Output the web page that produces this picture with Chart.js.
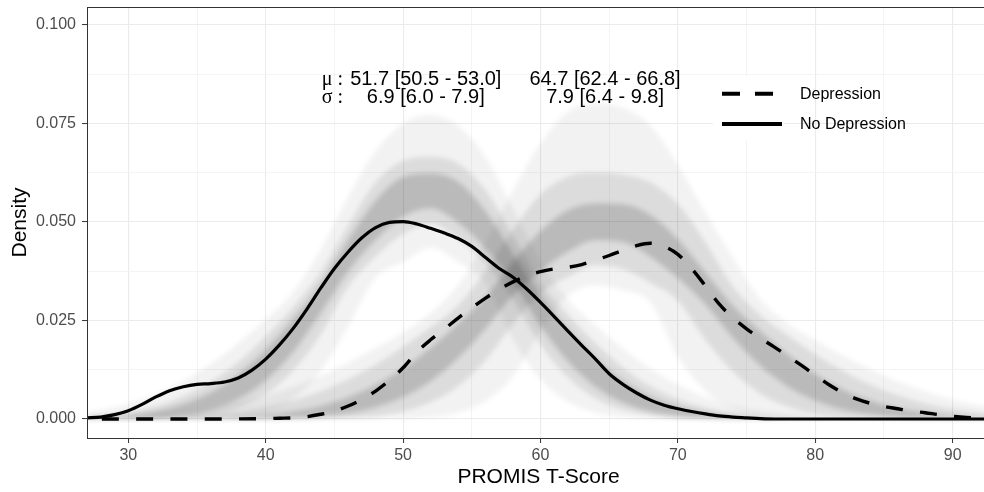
<!DOCTYPE html>
<html>
<head>
<meta charset="utf-8">
<script src="https://cdn.jsdelivr.net/npm/chart.js@4/dist/chart.umd.min.js"></script>
<style>
html,body{margin:0;padding:0;background:#fff;overflow:hidden;}
#wrap{width:990px;height:492px;}
</style>
</head>
<body>
<div id="wrap"><canvas id="c" width="990" height="492"></canvas></div>
<script>
// ---------- data ----------
const xMajorTicks = [30, 40, 50, 60, 70, 80, 90];
const xMinorTicks = [35, 45, 55, 65, 75, 85];
const yMajorTicks = [0, 0.025, 0.05, 0.075, 0.1];
const yMinorTicks = [0.0125, 0.0375, 0.0625, 0.0875];
const seriesNames = ['Depression', 'No Depression'];
const xTitle = 'PROMIS T-Score';
const yTitle = 'Density';

// annotation text (posterior summaries)
const summaryLabels = ['\u03bc :', '\u03c3 :'];
const summaryNoDep = ['51.7 [50.5 - 53.0]', '6.9 [6.0 - 7.9]'];
const summaryDep = ['64.7 [62.4 - 66.8]', '7.9 [6.4 - 9.8]'];

// observed density, No Depression (solid)
const noDepScores = [27,28,29,30,31,32,33,34,35,36,37,38,39,40,41,42,43,44,45,46,47,48,49,50,51,52,53,54,55,56,57,58,59,60,61,62,63,64,65,66,67,68,69,70,71,72,73,74,75,76,77,78,85,93];
const noDepDensity = [0.0003,0.0005,0.0011,0.0021,0.0037,0.0056,0.0072,0.0082,0.0088,0.0090,0.0094,0.0104,0.0124,0.0152,0.0188,0.0230,0.0279,0.0332,0.0382,0.0424,0.0460,0.0486,0.0499,0.0501,0.0495,0.0484,0.0472,0.0458,0.0438,0.0410,0.0382,0.0360,0.0330,0.0296,0.0260,0.0223,0.0187,0.0152,0.0115,0.0088,0.0066,0.0048,0.0035,0.0026,0.0019,0.0013,0.0008,0.0005,0.0003,0.0001,0.0000,0.0000,0.0000,0.0000];

// observed density, Depression (dashed)
const depScores = [27,30,35,40,41,42,43,44,45,46,47,48,49,50,51,52,53,54,55,56,57,58,59,60,61,62,63,64,65,66,67,68,69,70,71,72,73,74,75,76,77,78,79,80,81,82,83,84,85,86,87,88,89,90,91,92,93];
const depDensity = [0,0,0,0.0001,0.0002,0.0003,0.0006,0.0012,0.0020,0.0033,0.0050,0.0071,0.0098,0.0130,0.0170,0.0201,0.0228,0.0256,0.0282,0.0307,0.0329,0.0348,0.0363,0.0374,0.0381,0.0385,0.0392,0.0403,0.0415,0.0428,0.0440,0.0446,0.0438,0.0418,0.0382,0.0338,0.0292,0.0257,0.0229,0.0205,0.0183,0.0160,0.0136,0.0111,0.0087,0.0067,0.0051,0.0040,0.0032,0.0026,0.0020,0.0016,0.0011,0.0007,0.0004,0.0002,0.0001];

// spread of the grey posterior-draw curves (estimated envelopes)
const bandScores = [27,30,33,36,38,40,42,44,46,48,50,52,54,56,58,60,62,64,66,68,70,72,74,76,78,80,82,84,86,88,90,93];
const noDepOuterLow  = [0,0,0,0.0002,0.0007,0.0020,0.0053,0.0121,0.0235,0.0359,0.0398,0.0435,0.0398,0.0345,0.0202,0.0100,0.0043,0.0016,0.0005,0.0001,0,0,0,0,0,0,0,0,0,0,0,0];
const noDepOuterHigh = [0.0017,0.0039,0.0078,0.0140,0.0193,0.0253,0.0323,0.0430,0.0565,0.0680,0.0750,0.0772,0.0745,0.0665,0.0535,0.0400,0.0303,0.0238,0.0179,0.0128,0.0087,0.0056,0.0034,0.0020,0.0011,0.0006,0.0003,0.0001,0,0,0,0];
const noDepMidLow    = [0,0.0001,0.0003,0.0012,0.0029,0.0064,0.0124,0.0216,0.0337,0.0413,0.0470,0.0496,0.0458,0.0396,0.0304,0.0190,0.0106,0.0053,0.0024,0.0010,0.0003,0.0001,0,0,0,0,0,0,0,0,0,0];
const noDepMidHigh   = [0.0006,0.0017,0.0043,0.0094,0.0144,0.0209,0.0283,0.0372,0.0490,0.0600,0.0655,0.0665,0.0648,0.0580,0.0465,0.0346,0.0264,0.0192,0.0130,0.0083,0.0050,0.0028,0.0015,0.0007,0.0003,0.0002,0.0001,0,0,0,0,0];
const noDepCoreLow   = [0,0.0001,0.0007,0.0024,0.0051,0.0098,0.0171,0.0269,0.0375,0.0455,0.0514,0.0535,0.0499,0.0433,0.0349,0.0237,0.0146,0.0082,0.0042,0.0019,0.0008,0.0003,0.0001,0,0,0,0,0,0,0,0,0];
const noDepCoreHigh  = [0.0003,0.0009,0.0027,0.0067,0.0113,0.0175,0.0253,0.0341,0.0454,0.0554,0.0614,0.0623,0.0602,0.0527,0.0419,0.0314,0.0228,0.0155,0.0097,0.0057,0.0031,0.0016,0.0007,0.0003,0.0001,0,0,0,0,0,0,0];

const depOuterLow  = [0,0,0,0,0,0,0,0,0,0,0.0001,0.0005,0.0016,0.0045,0.0108,0.0222,0.0313,0.0339,0.0327,0.0296,0.0158,0.0071,0.0027,0.0009,0.0003,0.0001,0,0,0,0,0,0];
const depOuterHigh = [0.0003,0.0007,0.0014,0.0027,0.0041,0.0059,0.0082,0.0110,0.0143,0.0180,0.0220,0.0269,0.0340,0.0450,0.0580,0.0700,0.0780,0.0800,0.0790,0.0745,0.0645,0.0525,0.0410,0.0305,0.0242,0.0200,0.0161,0.0126,0.0095,0.0070,0.0049,0.0027];
const depMidLow    = [0,0,0,0,0,0,0,0.0001,0.0003,0.0008,0.0020,0.0043,0.0084,0.0150,0.0242,0.0320,0.0361,0.0391,0.0381,0.0346,0.0301,0.0202,0.0121,0.0065,0.0032,0.0014,0.0006,0.0002,0,0,0,0];
const depMidHigh   = [0.0001,0.0002,0.0005,0.0011,0.0018,0.0030,0.0047,0.0070,0.0100,0.0138,0.0183,0.0232,0.0288,0.0375,0.0480,0.0570,0.0615,0.0625,0.0620,0.0600,0.0545,0.0448,0.0336,0.0263,0.0212,0.0164,0.0122,0.0087,0.0060,0.0039,0.0025,0.0011];
const depCoreLow   = [0,0,0,0,0,0.0001,0.0003,0.0007,0.0015,0.0030,0.0056,0.0096,0.0155,0.0230,0.0314,0.0375,0.0425,0.0454,0.0449,0.0412,0.0358,0.0291,0.0206,0.0135,0.0082,0.0047,0.0024,0.0012,0.0005,0.0002,0.0001,0];
const depCoreHigh  = [0,0,0.0001,0.0002,0.0005,0.0010,0.0019,0.0033,0.0055,0.0086,0.0128,0.0181,0.0242,0.0310,0.0399,0.0477,0.0530,0.0547,0.0545,0.0518,0.0456,0.0372,0.0288,0.0223,0.0164,0.0114,0.0075,0.0047,0.0028,0.0016,0.0008,0.0003];

// ---------- build chart ----------
const FONT = '"Liberation Sans", Arial, sans-serif';
const pts = (xs, ys) => xs.map((v, i) => ({x: v, y: ys[i]}));

function bandPair(lo, hi, alpha) {
  return [
    {data: pts(bandScores, lo), borderWidth: 0, borderColor: 'rgba(0,0,0,0)', pointRadius: 0, fill: false,
     cubicInterpolationMode: 'monotone', order: 5, isBand: true},
    {data: pts(bandScores, hi), borderWidth: 0, borderColor: 'rgba(0,0,0,0)', pointRadius: 0, fill: '-1',
     backgroundColor: 'rgba(0,0,0,' + alpha + ')', cubicInterpolationMode: 'monotone', order: 5, isBand: true}
  ];
}

const datasets = [
  {label: seriesNames[1], data: pts(noDepScores, noDepDensity), borderColor: '#000', borderWidth: 3.2,
   pointRadius: 0, fill: false, cubicInterpolationMode: 'monotone', order: 0},
  {label: seriesNames[0], data: pts(depScores, depDensity), borderColor: '#000', borderWidth: 3.4,
   borderDash: [17, 17.3], borderDashOffset: 19.6, pointRadius: 0, fill: false,
   cubicInterpolationMode: 'monotone', order: 0},
  ...bandPair(noDepOuterLow, noDepOuterHigh, 0.05),
  ...bandPair(noDepMidLow, noDepMidHigh, 0.09),
  ...bandPair(noDepCoreLow, noDepCoreHigh, 0.15),
  ...bandPair(depOuterLow, depOuterHigh, 0.05),
  ...bandPair(depMidLow, depMidHigh, 0.09),
  ...bandPair(depCoreLow, depCoreHigh, 0.15)
];

const isMajorX = v => xMajorTicks.includes(v);
const isMajorY = v => yMajorTicks.includes(v);

const decorPlugin = {
  id: 'decor',
  beforeDraw(chart) {
    const {ctx} = chart;
    ctx.save();
    ctx.fillStyle = '#fff';
    ctx.fillRect(0, 0, chart.width, chart.height);
    ctx.restore();
  },
  beforeDatasetsDraw(chart) {
    // soften the edges of the grey draw-envelopes
    chart.ctx.filter = 'blur(2.5px)';
  },
  beforeDatasetDraw(chart, args) {
    if (!chart.data.datasets[args.index].isBand) chart.ctx.filter = 'none';
  },
  afterDatasetsDraw(chart) {
    const {ctx, scales: {x, y}, chartArea: ca} = chart;
    ctx.filter = 'none';
    ctx.save();
    // summary annotation
    ctx.fillStyle = '#000';
    ctx.textBaseline = 'middle';
    const rowY = [0.0862, 0.0816];
    for (let i = 0; i < 2; i++) {
      const py = y.getPixelForValue(rowY[i]);
      ctx.font = '20px "Liberation Serif", serif';
      ctx.textAlign = 'left';
      ctx.fillText(summaryLabels[i], x.getPixelForValue(44.08), py);
      ctx.font = '20px ' + FONT;
      ctx.textAlign = 'center';
      ctx.fillText(summaryNoDep[i], x.getPixelForValue(51.65), py);
      ctx.fillText(summaryDep[i], x.getPixelForValue(64.7), py);
    }
    // legend
    ctx.fillStyle = '#fff';
    ctx.fillRect(713, 77, 70, 63);
    ctx.strokeStyle = '#000';
    ctx.lineWidth = 4;
    ctx.lineCap = 'butt';
    ctx.setLineDash([18, 15]);
    ctx.beginPath(); ctx.moveTo(722, 93.7); ctx.lineTo(782, 93.7); ctx.stroke();
    ctx.setLineDash([]);
    ctx.beginPath(); ctx.moveTo(722, 124); ctx.lineTo(782, 124); ctx.stroke();
    ctx.fillStyle = '#000';
    ctx.font = '16px ' + FONT;
    ctx.textAlign = 'left';
    ctx.fillText(seriesNames[0], 800, 95);
    ctx.fillText(seriesNames[1], 800, 125);
    // panel border
    ctx.strokeStyle = '#333';
    ctx.lineWidth = 1;
    ctx.strokeRect(Math.round(ca.left) + 0.5, Math.round(ca.top) + 0.5,
                   Math.round(ca.right - ca.left), Math.round(ca.bottom - ca.top));
    ctx.restore();
  }
};

new Chart(document.getElementById('c'), {
  type: 'line',
  data: {datasets},
  plugins: [decorPlugin],
  options: {
    responsive: false,
    animation: false,
    events: [],
    layout: {padding: {top: 7, left: 0, right: 0, bottom: 0}},
    plugins: {legend: {display: false}, tooltip: {enabled: false}},
    elements: {point: {radius: 0}},
    scales: {
      x: {
        type: 'linear', min: 26.99, max: 92.72,
        afterBuildTicks: s => { s.ticks = [...xMajorTicks, ...xMinorTicks].sort((a, b) => a - b).map(v => ({value: v})); },
        afterFit: s => { s.height = 54; s.paddingLeft = 0; s.paddingRight = 0; s.paddingTop = 0; s.paddingBottom = 0; },
        ticks: {callback: v => isMajorX(v) ? String(v) : '', color: '#4d4d4d', font: {family: FONT, size: 16},
                padding: 3, maxRotation: 0, autoSkip: false},
        grid: {color: c => isMajorX(c.tick.value) ? '#ebebeb' : '#f1f1f1',
               lineWidth: c => isMajorX(c.tick.value) ? 1.1 : 0.8,
               tickColor: c => isMajorX(c.tick.value) ? '#333' : 'rgba(0,0,0,0)',
               tickLength: 5, tickWidth: 1},
        border: {display: false},
        title: {display: true, text: xTitle, color: '#000', font: {family: FONT, size: 21}, padding: {top: 0, bottom: 2}}
      },
      y: {
        type: 'linear', min: -0.00482, max: 0.10457,
        afterBuildTicks: s => { s.ticks = [...yMajorTicks, ...yMinorTicks].sort((a, b) => a - b).map(v => ({value: v})); },
        afterFit: s => { s.width = 87; s.paddingLeft = 0; s.paddingRight = 0; s.paddingTop = 0; s.paddingBottom = 0; },
        ticks: {callback: v => isMajorY(v) ? v.toFixed(3) : '', color: '#4d4d4d', font: {family: FONT, size: 16},
                padding: 6, autoSkip: false},
        grid: {color: c => isMajorY(c.tick.value) ? '#ebebeb' : '#f1f1f1',
               lineWidth: c => isMajorY(c.tick.value) ? 1.1 : 0.8,
               tickColor: c => isMajorY(c.tick.value) ? '#333' : 'rgba(0,0,0,0)',
               tickLength: 5, tickWidth: 1},
        border: {display: false},
        title: {display: true, text: yTitle, color: '#000', font: {family: FONT, size: 21}, padding: {top: 8, bottom: 0}}
      }
    }
  }
});
</script>
</body>
</html>
